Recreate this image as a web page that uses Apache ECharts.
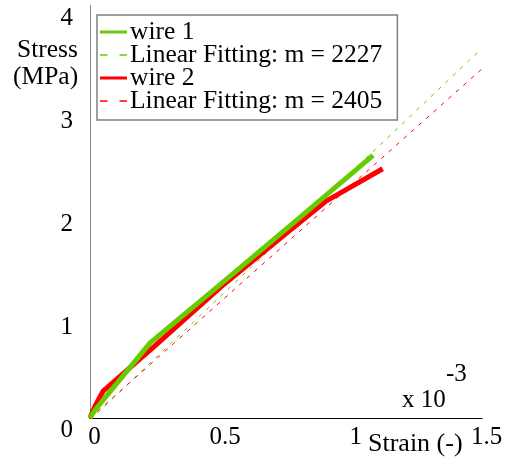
<!DOCTYPE html>
<html><head><meta charset="utf-8">
<script src="https://cdn.jsdelivr.net/npm/echarts@6/dist/echarts.min.js"></script>
<style>html,body{margin:0;padding:0;background:#fff}#c{width:509px;height:464px}</style>
</head><body><div id="c"></div>
<script>
const xTicks = [0, 0.5, 1, 1.5];
const yTicks = [0, 1, 2, 3, 4];
const wire1 = [[0,0],[0.02,0.08],[0.23,0.73],[0.5,1.30],[0.8,1.94],[1.083,2.55]];
const fit1 = [[0,-0.02],[1.5,3.59]];
const wire2 = [[0,0],[0.02,0.12],[0.05,0.26],[0.23,0.66],[0.5,1.27],[0.75,1.79],[0.9,2.10],[1.12,2.42]];
const fit2 = [[0,0],[1.5,3.39]];
const names = ['wire 1','Linear Fitting: m = 2227','wire 2','Linear Fitting: m = 2405'];
const GREEN = '#66cc00', RED = '#ff0000';
const FONT = "'Times New Roman', 'Liberation Serif', 'DejaVu Serif', serif";
const SOLID = 'rect';
const DASHED = 'path://M0,0h5v1h-5z M13,0h5v1h-5z';

const chart = echarts.init(document.getElementById('c'));
chart.setOption({
  animation: false,
  textStyle: {fontFamily: FONT},
  grid: {left: 90, right: 27, top: 6, bottom: 46},
  legend: {
    orient: 'vertical', left: 97, top: 15,
    data: [
      {name: names[0], icon: SOLID, itemStyle: {color: GREEN}},
      {name: names[1], icon: DASHED, itemStyle: {color: GREEN}},
      {name: names[2], icon: SOLID, itemStyle: {color: RED}},
      {name: names[3], icon: DASHED, itemStyle: {color: RED}}
    ],
    itemWidth: 27, itemHeight: 3, itemGap: -3,
    padding: [4, 15, 6, 3],
    borderColor: '#808080', borderWidth: 1.5,
    backgroundColor: '#fff',
    textStyle: {fontFamily: FONT, fontSize: 25.5, lineHeight: 23, color: '#000', padding: [0,0,0,-2]}
  },
  xAxis: [{
    type: 'value', min: 0, max: 1.5, interval: 0.5,
    axisLine: {show: true, lineStyle: {color: '#666', width: 1}},
    axisTick: {show: false}, splitLine: {show: false},
    axisLabel: {fontSize: 25, color: '#000', fontFamily: FONT, margin: 7, padding: [0,0,0,9]}
  }, {
    type: 'value', position: 'top', min: 0, max: 1.5,
    axisLine: {show: true, lineStyle: {color: '#000', width: 1}},
    axisTick: {show: false}, axisLabel: {show: false}, splitLine: {show: false}
  }],
  yAxis: [{
    type: 'value', min: 0, max: 4, interval: 1,
    axisLine: {show: true, lineStyle: {color: '#000', width: 1}},
    axisTick: {show: false}, splitLine: {show: false},
    axisLabel: {fontSize: 25, color: '#000', fontFamily: FONT, margin: 17, verticalAlign: 'top'}
  }, {
    type: 'value', position: 'right', min: 0, max: 4,
    axisLine: {show: true, lineStyle: {color: '#888', width: 1}},
    axisTick: {show: false}, axisLabel: {show: false}, splitLine: {show: false}
  }],
  graphic: [
    {type: 'text', left: 17, top: 37, style: {text: 'Stress', fontFamily: FONT, fontSize: 25.5, fill: '#000'}},
    {type: 'text', left: 13, top: 64, style: {text: '(MPa)', fontFamily: FONT, fontSize: 25.5, fill: '#000'}},
    {type: 'text', left: 368, top: 431, style: {text: 'Strain (-)', fontFamily: FONT, fontSize: 26, fill: '#000'}},
    {type: 'text', left: 402, top: 388, style: {text: 'x 10', fontFamily: FONT, fontSize: 25, fill: '#000'}},
    {type: 'text', left: 446, top: 362, style: {text: '-3', fontFamily: FONT, fontSize: 25, fill: '#000'}}
  ],
  series: [
    {name: names[0], type: 'line', data: wire1, symbol: 'none', z: 4,
     lineStyle: {color: GREEN, width: 5}, itemStyle: {color: GREEN}},
    {name: names[1], type: 'line', data: fit1, symbol: 'none', z: 3,
     lineStyle: {color: GREEN, width: 1, type: [4, 6]}, itemStyle: {color: GREEN}},
    {name: names[2], type: 'line', data: wire2, symbol: 'none', z: 3,
     lineStyle: {color: RED, width: 5}, itemStyle: {color: RED}},
    {name: names[3], type: 'line', data: fit2, symbol: 'none', z: 3,
     lineStyle: {color: RED, width: 1, type: [4, 6]}, itemStyle: {color: RED}}
  ]
});
</script></body></html>
